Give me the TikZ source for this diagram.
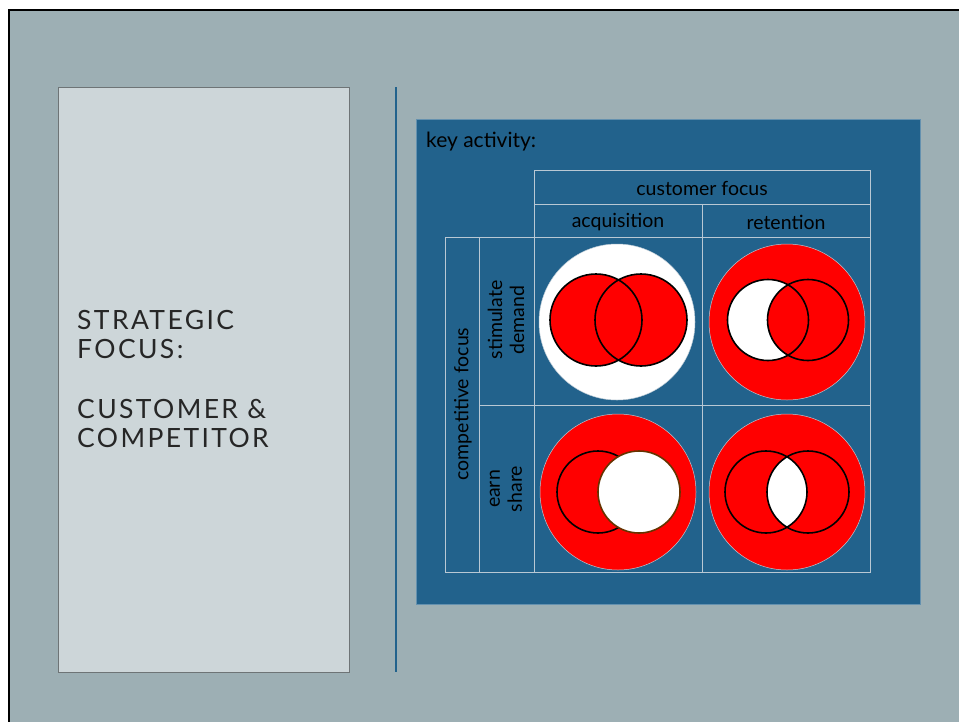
\documentclass[tikz,border=0pt]{standalone}
\usepackage{fontspec}
\setmainfont{Lato}
\newfontfamily\titlefont[LetterSpace=9]{Lato}
\usepackage{tikz}
\usetikzlibrary{positioning}
\definecolor{slidegray}{RGB}{157,175,180}
\definecolor{panelgray}{RGB}{205,214,217}
\definecolor{panelrim}{RGB}{110,116,118}
\definecolor{keyblue}{RGB}{34,98,140}
\definecolor{gridline}{RGB}{185,200,212}
\definecolor{vennred}{RGB}{255,0,0}

\begin{document}
\begin{tikzpicture}[x=1pt, y=-1pt,
  grid/.style={draw=gridline, line width=0.7pt},
  lbl/.style={font=\fontsize{19.5}{22}\selectfont, text=black, inner sep=0pt},
  titletext/.style={font=\titlefont\fontsize{26.5}{29}\selectfont, text=black!85, inner sep=0pt, anchor=base west},
  disc/.style={draw=gridline, line width=0.5pt},
  venn/.style={draw=black, line width=1.6pt}]
  \useasboundingbox (0,0) rectangle (959,721);
  % Slide
  \fill[white] (0,0) rectangle (959,721);
  \draw[black, line width=2pt, fill=slidegray] (9,10) rectangle (975,740);
  % Left panel
  \draw[panelrim, fill=panelgray, line width=0.8pt] (58,87) rectangle (349,672);
  \node[titletext] (t1) at (77,329) {STRATEGIC};
  \node[titletext] (t2) at (77,358) {FOCUS:};
  \node[titletext] (t3) at (77,418) {CUSTOMER \&};
  \node[titletext] (t4) at (77,447) {COMPETITOR};
  % Divider
  \draw[keyblue, line width=1.5pt] (396,87) -- (396,672);
  % Key activity box
  \draw[fill=keyblue, draw=keyblue!70!white, line width=0.5pt] (416,119) rectangle (920,604);
  \node[lbl, font=\fontsize{21}{24}\selectfont, anchor=base west] (key) at (426,147) {key activity:};
  % Table grid
  \draw[grid] (534,170) rectangle (870,237);
  \draw[grid] (534,204) -- (870,204);
  \draw[grid] (445,237) rectangle (870,572);
  \draw[grid] (479,237) -- (479,572);
  \draw[grid] (534,237) -- (534,572);
  \draw[grid] (702,204) -- (702,572);
  \draw[grid] (479,405) -- (870,405);
  % Headers
  \node[lbl] (cust) at (702,188) {customer focus};
  \node[lbl] (acq) at (618,222) {acquisition};
  \node[lbl] (ret) at (786,222) {retention};
  \node[lbl, rotate=90] (comp) at (463,404) {competitive focus};
  \node[lbl, rotate=90, align=center] (stim) at (506,320) {stimulate\\demand};
  \node[lbl, rotate=90, align=center] (earn) at (506,489) {earn\\share};
  % Discs
  \foreach \cx/\cy/\col in {617/322/white, 787/322/vennred, 618/492/vennred, 787/492/vennred}
    \draw[disc, fill=\col] (\cx,\cy) circle[radius=78];
  % Stimulate demand / acquisition
  \fill[vennred] (596,320) circle[radius=46] (641,320) circle[radius=46];
  \draw[venn] (596,320) circle[radius=46] (641,320) circle[radius=46];
  % Stimulate demand / retention
  \fill[white] (768,320) circle[radius=40.5];
  \fill[vennred] (808,320) circle[radius=40.5];
  \draw[venn] (768,320) circle[radius=40.5] (808,320) circle[radius=40.5];
  % Earn share / acquisition
  \fill[vennred] (598,492) circle[radius=41];
  \draw[venn] (598,492) circle[radius=41];
  \draw[venn, draw=black!60!orange, fill=white] (639,492) circle[radius=41];
  % Earn share / retention
  \fill[vennred] (766,492) circle[radius=41] (808,492) circle[radius=41];
  \begin{scope}
    \clip (766,492) circle[radius=41];
    \fill[white] (808,492) circle[radius=41];
  \end{scope}
  \draw[venn] (766,492) circle[radius=41] (808,492) circle[radius=41];
\end{tikzpicture}
\end{document}
